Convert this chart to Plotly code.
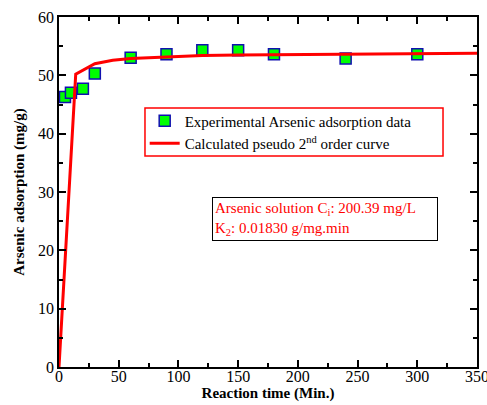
import plotly.graph_objects as go

# Experimental data
exp_time = [5, 10, 20, 30, 60, 90, 120, 150, 180, 240, 300]
exp_q = [46.3, 47.0, 47.7, 50.3, 53.0, 53.6, 54.3, 54.3, 53.6, 52.9, 53.6]

# Calculated pseudo 2nd order curve
calc_time = [0, 14, 30, 45, 60, 90, 120, 150, 200, 250, 300, 350]
calc_q = [0, 50.2, 52.0, 52.6, 52.9, 53.2, 53.4, 53.5, 53.6, 53.7, 53.7, 53.8]

x_ticks = [0, 50, 100, 150, 200, 250, 300, 350]
y_ticks = [0, 10, 20, 30, 40, 50, 60]

FONT = "Liberation Serif"

fig = go.Figure()
fig.add_trace(go.Scatter(
    x=exp_time, y=exp_q, mode="markers",
    name="Experimental Arsenic adsorption data",
    marker=dict(symbol="square", size=11, color="#00FF00",
                line=dict(color="#1010B0", width=1.5)),
))
fig.add_trace(go.Scatter(
    x=calc_time, y=calc_q, mode="lines",
    name="Calculated pseudo 2<sup>nd</sup> order curve",
    line=dict(color="#FF0000", width=3),
))

axis_common = dict(
    showline=True, linecolor="black", linewidth=1.5, mirror="allticks",
    ticks="inside", ticklen=7, tickwidth=1.5, tickcolor="black",
    showgrid=False, zeroline=False, automargin=False,
    tickfont=dict(family=FONT, size=16, color="black"),
)

fig.update_xaxes(
    range=[0, 350], tickvals=x_ticks[:-1],
    ticklabelstandoff=-6,
    title=dict(text="<b>Reaction time (Min.)</b>", font=dict(family=FONT, size=15, color="black"), standoff=4),
    minor=dict(dtick=25, ticks="inside", ticklen=4, tickwidth=1.5, tickcolor="black"),
    **axis_common,
)
fig.update_yaxes(
    range=[0, 60], tickvals=y_ticks,
    title=dict(text="<b>Arsenic adsorption (mg/g)</b>", font=dict(family=FONT, size=15, color="black"), standoff=10),
    minor=dict(dtick=5, ticks="inside", ticklen=4, tickwidth=1.5, tickcolor="black"),
    **axis_common,
)

fig.update_layout(
    width=487, height=405,
    margin=dict(l=59, r=10, t=17, b=38, autoexpand=False),
    plot_bgcolor="white", paper_bgcolor="white",
    font=dict(family=FONT, size=15, color="black"),
    showlegend=True,
    legend=dict(
        x=0.205, y=0.75, xanchor="left", yanchor="top",
        borderwidth=0, bgcolor="rgba(0,0,0,0)",
        font=dict(family=FONT, size=15, color="black"),
        tracegroupgap=0, itemwidth=30,
    ),
)

# red legend frame
fig.add_shape(
    type="rect", xref="paper", yref="paper",
    x0=0.2057, x1=0.9187, y0=0.603, y1=0.74,
    line=dict(color="#FF0000", width=1.5), fillcolor="white", layer="above",
)

# last x tick label (cut by the page edge, as in the reference)
fig.add_annotation(
    xref="x", yref="paper", x=x_ticks[-1], y=0, xanchor="center", yanchor="top",
    text=str(x_ticks[-1]), showarrow=False, yshift=1,
    font=dict(family=FONT, size=16, color="black"),
)

fig.add_annotation(
    xref="paper", yref="paper", x=0.366, y=0.486, xanchor="left", yanchor="top",
    text="Arsenic solution C<sub>i</sub>: 200.39 mg/L<br>K<sub>2</sub>: 0.01830 g/mg.min",
    showarrow=False, align="left", width=220,
    font=dict(family=FONT, size=15, color="#FF0000"),
    bordercolor="black", borderwidth=1, borderpad=2, bgcolor="white",
)

fig.write_html("out.html")
